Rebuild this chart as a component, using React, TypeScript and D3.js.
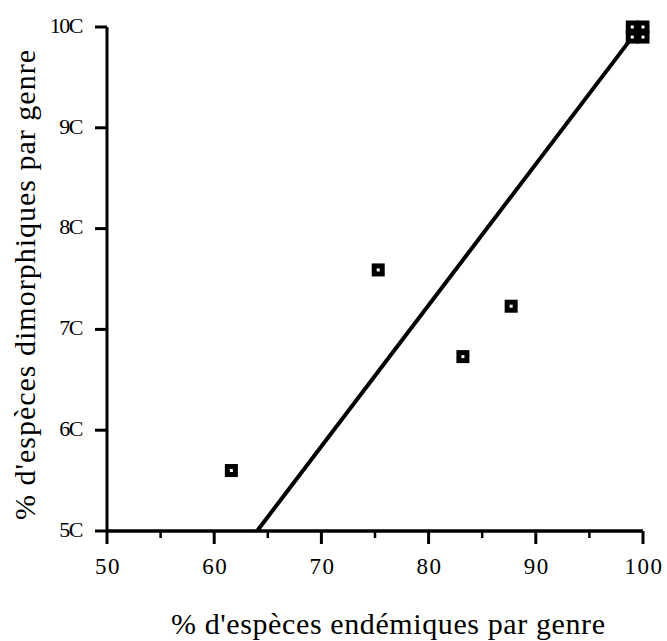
import React from 'react'
import * as d3 from 'd3'

// values
const endemicPct = [61.6, 75.3, 83.2, 87.7, 99, 100, 99, 100]
const dimorphicPct = [56, 75.9, 67.3, 72.3, 100, 100, 99, 99]

const xTicks = [50, 60, 70, 80, 90, 100]
const xTickLabels = ['50', '60', '70', '80', '90', '100']
const xMinorTicks = [55, 65, 75, 85, 95]
const yTicks = [50, 60, 70, 80, 90, 100]
const yTickLabels = ['5C', '6C', '7C', '8C', '9C', '10C']

// regression line y = slope * x + intercept
const fitSlope = 1.4
const fitIntercept = -39.6
const fitRange = [64, 99.6]

const xTitle = "% d'espèces endémiques par genre"
const yTitle = "% d'espèces dimorphiques par genre"

const W = 667
const H = 641
const font = 'Liberation Serif, Times New Roman, DejaVu Serif, serif'

export default function App() {
  const x = d3.scaleLinear().domain([50, 100]).range([107, 643])
  const y = d3.scaleLinear().domain([50, 100]).range([531, 27])

  const fitPts = fitRange.map((v) => [v, fitSlope * v + fitIntercept] as [number, number])
  const line = d3
    .line<[number, number]>()
    .x((d) => x(d[0]))
    .y((d) => y(d[1]))

  const pts = endemicPct.map((v, i) => ({ x: v, y: dimorphicPct[i] }))

  return (
    <svg
      width={W}
      height={H}
      style={{ position: 'absolute', left: 0, top: 0, background: '#fff', fontFamily: font }}
    >
      <rect width={W} height={H} fill="#fff" />

      {/* fit line */}
      <path d={line(fitPts) || ''} fill="none" stroke="#000" strokeWidth={4} />

      {/* points */}
      {pts.map((p, i) => (
        <rect
          key={i}
          x={x(p.x) - 4}
          y={y(p.y) - 4}
          width={8}
          height={8}
          fill="#fff"
          stroke="#000"
          strokeWidth={5}
        />
      ))}

      {/* y axis */}
      <line x1={x(50)} x2={x(50)} y1={y(100)} y2={y(50)} stroke="#000" strokeWidth={3} />
      {yTicks.map((t, i) => (
        <g key={t}>
          <line x1={x(50) - 12} x2={x(50)} y1={y(t)} y2={y(t)} stroke="#000" strokeWidth={3} />
          <text
            x={x(50) - 25}
            y={y(t) - 2}
            dy="0.35em"
            textAnchor="end"
            fontSize={22}
            letterSpacing={-1.5}
          >
            {yTickLabels[i]}
          </text>
        </g>
      ))}

      {/* x axis */}
      <line x1={x(50)} x2={x(100)} y1={y(50)} y2={y(50)} stroke="#000" strokeWidth={3.5} />
      {xTicks.map((t, i) => (
        <g key={t}>
          <line x1={x(t)} x2={x(t)} y1={y(50)} y2={y(50) + 13} stroke="#000" strokeWidth={3} />
          <text
            x={x(t) + 1}
            y={y(50) + 35}
            dy="0.35em"
            textAnchor="middle"
            fontSize={23}
            letterSpacing={1.5}
          >
            {xTickLabels[i]}
          </text>
        </g>
      ))}
      {xMinorTicks.map((t) => (
        <line key={t} x1={x(t)} x2={x(t)} y1={y(50)} y2={y(50) + 7} stroke="#000" strokeWidth={2.5} />
      ))}

      {/* titles */}
      <text
        x={171}
        y={634}
        fontSize={30}
        textLength={434}
        lengthAdjust="spacing"
      >
        {xTitle}
      </text>
      <text
        transform={`translate(35,520) rotate(-90)`}
        fontSize={30}
        textLength={470}
        lengthAdjust="spacing"
      >
        {yTitle}
      </text>
    </svg>
  )
}
